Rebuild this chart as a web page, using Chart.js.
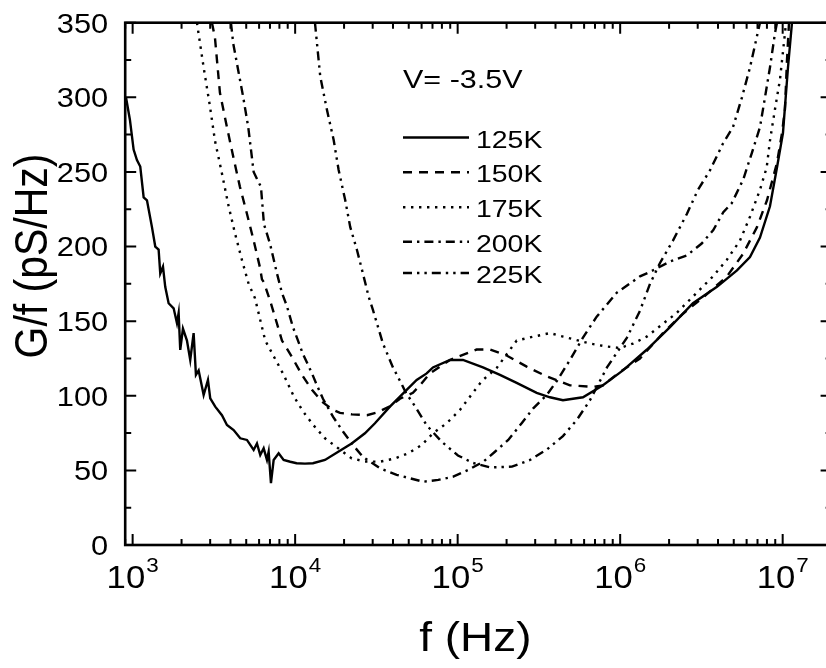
<!DOCTYPE html>
<html>
<head>
<meta charset="utf-8">
<script src="https://cdn.jsdelivr.net/npm/chart.js@4.4.1/dist/chart.umd.min.js"></script>
<style>
html,body{margin:0;padding:0;overflow:hidden;background:#ffffff;}
#wrap{position:relative;width:840px;height:668px;}
</style>
</head>
<body>
<div id="wrap"><canvas id="c" width="840" height="668"></canvas></div>
<script>
// ---------------- data ----------------
const seriesNames = ['125K', '150K', '175K', '200K', '225K'];

const freq125 = [910,962,1014,1063,1114,1169,1225,1315,1378,1445,1479,1537,1587,1665,1788,1874,1919,1963,2040,2159,2262,2373,2452,2548,2735,2907,3003,3223,3544,3805,4183,4594,5051,5555,5821,6100,6401,6708,6870,7098,7375,7915,8495,9328,10210,11490,12870,15260,18420,22270,26880,30980,38310,48560,55950,64460,70470,89690,107800,143100,182100,230700,306400,369800,444600,590300,783700,1040000,1462000,2026000,2805000,3942000,5233000,6292000,7249000,8352000,9224000,10040000,10780000,11410000];
const g125 = [300,285,265,258,253.6,233,231,213,200,198,182,186.5,173,162,158.6,148.6,155.5,130.7,145,137,124,142,114,117,100.5,110.6,98.3,92.7,87,80.4,77,71.5,70.4,63.7,68,60.3,64.8,57,62.5,41.4,57,61.5,57,55.8,54.8,54.5,54.8,57,62.5,68,74.9,81.6,92.7,104,110.6,115,119,124,124,119,114,108.6,102,99,97,99,107,117,131,146,162,173,184,193,206,227,253,276,320,350];

const freq150 = [3076,3210,3445,3805,4202,4574,5051,5555,6074,6248,6427,6611,6999,7510,8294,9557,11010,12690,14620,16850,18870,22370,27660,32320,38310,44150,53070,58610,67540,89690,130900,158000,200200,265900,352900,491100,680100,783700,997300,1324000,1834000,2436000,3325000,4542000,5698000,6947000,8007000,9224000,9902000,10330000,10630000,10940000];
const g150 = [350,340,303,280,258,240,222,204,186,178,176,172,164,153,137,126,114,104,96,91,88.5,87.5,87,89,93,98,102,107,115,124,131,131,127,119.5,113,107,106,107,116,125,142,155,167,180,195,213,231,256,276,292,325,350];

const freq175 = [2487,2735,2990,3210,3544,3897,4261,4705,5174,5656,6546,8412,9831,11215,12925,15260,18420,22270,26880,33250,41140,49660,60040,70760,85590,103300,119000,141100,173800,230700,291900,369800,446500,651900,825900,997300,1199000,1456000,2227000,2956000,3725000,4523000,5461000,6292000,7249000,7972000,8352000,8966000,9625000,10330000,10480000];
const g175 = [350,320,294,271,249,227,209,191,175,165.5,137,115,99.4,89.3,80.4,71.5,64.8,58,56,55.8,58,61.5,67,75,81.6,90.5,99.4,110,118.6,137,139.6,142,139.6,135,133,132,135,139.6,155.5,169,180,191,204,220,238,253,271,292,312,343,350];

const freq200 = [4026,4160,4465,4793,5145,5555,5903,6160,6427,6999,7727,8294,8901,9694,11170,12690,13620,14830,17090,19690,22680,26140,33250,42130,50880,61410,75960,93960,116200,143700,169600,204800,247700,291900,352900,408400,491100,590300,716900,951700,1324000,1526000,2026000,2566000,3174000,3741000,4311000,4856000,5722000,6473000,7249000,7784000,8352000,8966000,9224000];
const g200 = [350,336,318,300,280,250,244,240,215,202,182,169,160,146,128,115,107,98,86,76,67,59,51.4,47,44.7,42.4,43.6,45.8,50.3,55.8,62.5,70.4,81.6,91.6,100.5,110,124,139,153,169,180,183,190,194,202,211,223,229,245,263,280,300,320,343,350];

const freq225 = [13240,14270,15690,17260,18520,20340,21830,24010,26390,28340,30110,34700,39980,44150,48060,54610,64730,80070,100400,124200,158000,215900,278600,354400,444600,542500,651900,829500,1101000,1324000,1526000,1758000,2113000,2577000,3011000,3569000,4292000,4946000,5617000,6292000,7047000,7249000];
const g225 = [350,314,291.6,271.4,251.3,231,213,197.7,180,166.4,157.5,135,119,110,102,93,80,69,60,55,52,52.5,57,64,73,84,97,119,139,157,175,189,204,222,238,251,269,280,300,320,344,350];

const xTickValues = [1e3, 1e4, 1e5, 1e6, 1e7];
const xTickBase = '10';
const xTickExponents = ['3', '4', '5', '6', '7'];
const yTickValues = [0, 50, 100, 150, 200, 250, 300, 350];
const yTickLabels = ['0', '50', '100', '150', '200', '250', '300', '350'];
const xTitle = 'f (Hz)';
const yTitle = 'G/f (pS/Hz)';
const annotationText = 'V= -3.5V';
const xMin = 900, xMax = 2e7, yMin = 0, yMax = 350;

// ---------------- styling ----------------
const FONT = '"Liberation Sans", Arial, Helvetica, sans-serif';
const SX = 1.12; // horizontal stretch of text in the reference
const dashes = [[], [9, 7], [2.4, 5.6], [9, 5, 2.4, 5], [9, 5, 2.4, 5, 2.4, 5]];
const freqs = [freq125, freq150, freq175, freq200, freq225];
const vals = [g125, g150, g175, g200, g225];

const datasets = seriesNames.map((name, k) => ({
  label: name,
  data: freqs[k].map((f, i) => ({x: f, y: vals[k][i]})),
  borderColor: '#000',
  borderWidth: 2.4,
  borderDash: dashes[k],
  pointRadius: 0,
  fill: false,
  tension: 0,
  clip: 0
}));

function drawText(ctx, s, x, y, size, align, sx) {
  ctx.save();
  ctx.font = size + 'px ' + FONT;
  ctx.textAlign = align;
  ctx.textBaseline = 'alphabetic';
  ctx.fillStyle = '#000';
  ctx.translate(x, y);
  ctx.scale(sx || SX, 1);
  ctx.fillText(s, 0, 0);
  ctx.restore();
}

const axesPlugin = {
  id: 'axesPlugin',
  afterDatasetsDraw(chart) {
    const ctx = chart.ctx;
    const a = chart.chartArea;
    const xs = chart.scales.x, ys = chart.scales.y;
    ctx.save();
    ctx.strokeStyle = '#000';
    ctx.lineCap = 'butt';
    // ticks
    ctx.lineWidth = 2;
    const majorLen = 11, minorLen = 6;
    for (let e = 2; e <= 7; e++) {
      for (let m = 1; m <= 9; m++) {
        const v = m * Math.pow(10, e);
        if (v < xMin || v > xMax) continue;
        const px = xs.getPixelForValue(v);
        const len = (m === 1) ? majorLen : minorLen;
        ctx.beginPath();
        ctx.moveTo(px, a.bottom); ctx.lineTo(px, a.bottom - len);
        ctx.moveTo(px, a.top); ctx.lineTo(px, a.top + len);
        ctx.stroke();
      }
    }
    for (let v = yMin; v <= yMax; v += 25) {
      const py = ys.getPixelForValue(v);
      const len = (v % 50 === 0) ? majorLen : minorLen;
      ctx.beginPath();
      ctx.moveTo(a.left, py); ctx.lineTo(a.left + len, py);
      ctx.moveTo(a.right, py); ctx.lineTo(a.right - len, py);
      ctx.stroke();
    }
    // frame
    ctx.lineWidth = 2.6;
    ctx.strokeRect(a.left, a.top, a.right - a.left, a.bottom - a.top);
    ctx.restore();

    // y tick labels
    yTickValues.forEach((v, i) => {
      const py = ys.getPixelForValue(v);
      drawText(ctx, yTickLabels[i], a.left - 17, py + 9.8, 27.5, 'right');
    });
    // x tick labels with exponent
    xTickValues.forEach((v, i) => {
      const px = xs.getPixelForValue(v);
      ctx.save();
      ctx.font = '31px ' + FONT;
      const wb = ctx.measureText(xTickBase).width * SX;
      ctx.font = '20px ' + FONT;
      const we = ctx.measureText(xTickExponents[i]).width * SX;
      ctx.restore();
      const x0 = px - (wb + we + 1) / 2;
      drawText(ctx, xTickBase, x0, 588, 31, 'left');
      drawText(ctx, xTickExponents[i], x0 + wb + 1, 572, 20, 'left');
    });
    // axis titles
    drawText(ctx, xTitle, (a.left + a.right) / 2 - 3, 651, 41, 'center');
    ctx.save();
    ctx.translate(47, 256);
    ctx.rotate(-Math.PI / 2);
    ctx.font = '41px ' + FONT;
    ctx.textAlign = 'center';
    ctx.fillStyle = '#000';
    ctx.scale(1, SX);
    ctx.fillText(yTitle, 0, 0);
    ctx.restore();

    // annotation and legend
    drawText(ctx, annotationText, 403, 87.5, 25, 'left', 1.22);
    const legendBase = [147.5, 182.3, 217.3, 251.8, 283];
    chart.data.datasets.forEach((ds, k) => {
      const by = legendBase[k];
      ctx.save();
      ctx.strokeStyle = '#000';
      ctx.lineWidth = 2.4;
      ctx.setLineDash(ds.borderDash);
      ctx.beginPath();
      ctx.moveTo(403, by - 10);
      ctx.lineTo(469, by - 10);
      ctx.stroke();
      ctx.restore();
      drawText(ctx, ds.label, 476, by, 24.5, 'left', 1.16);
    });
  }
};

new Chart(document.getElementById('c'), {
  type: 'line',
  data: {datasets},
  options: {
    responsive: false,
    animation: false,
    devicePixelRatio: 1,
    layout: {padding: {left: 125.2, top: 22.7, right: 840 - 831.6, bottom: 668 - 545}},
    plugins: {legend: {display: false}, tooltip: {enabled: false}},
    scales: {
      x: {type: 'logarithmic', min: xMin, max: xMax, display: false},
      y: {type: 'linear', min: yMin, max: yMax, display: false}
    }
  },
  plugins: [axesPlugin]
});
</script>
</body>
</html>
